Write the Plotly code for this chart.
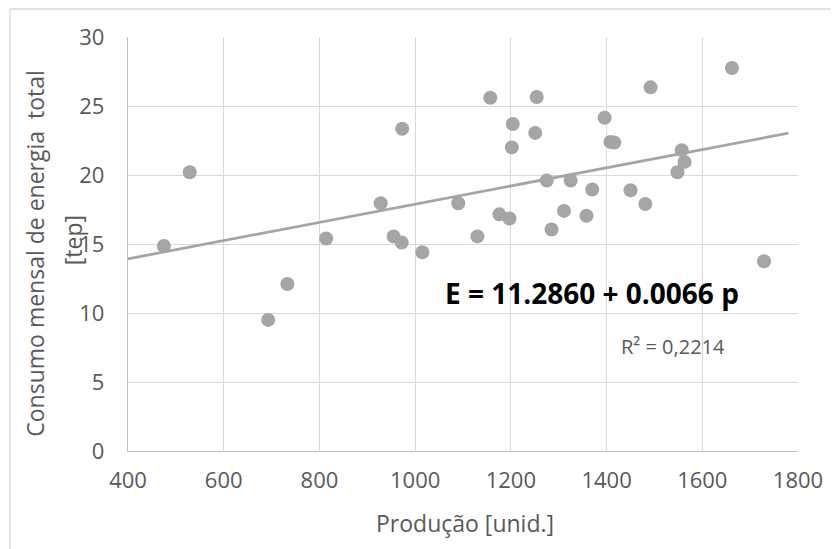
import plotly.graph_objects as go

# Data
producao = [475, 529, 693, 733, 814, 928, 955, 972, 973, 1015, 1090, 1130,
            1157, 1176, 1197, 1202, 1204, 1251, 1254, 1275, 1285, 1311, 1325, 1358,
            1370, 1396, 1408, 1416, 1450, 1481, 1492, 1548, 1557, 1563, 1662, 1729]
consumo = [14.85, 20.2, 9.5, 12.1, 15.4, 17.95, 15.55, 15.1, 23.35, 14.4, 17.95, 15.55,
           25.6, 17.15, 16.85, 22.0, 23.7, 23.05, 25.65, 19.6, 16.05, 17.4, 19.6, 17.05,
           18.95, 24.15, 22.4, 22.35, 18.9, 17.9, 26.35, 20.2, 21.8, 20.95, 27.75, 13.75]

intercept = 11.2860
slope = 0.0066
trend_x = [400, 1780]
trend_y = [intercept + slope * v for v in trend_x]

x_ticks = [400, 600, 800, 1000, 1200, 1400, 1600, 1800]
y_ticks = [0, 5, 10, 15, 20, 25, 30]

FONT = "Open Sans"
GRAY_TXT = "#595959"

fig = go.Figure()
fig.add_trace(go.Scatter(
    x=trend_x, y=trend_y, mode="lines",
    line=dict(color="#a5a5a5", width=2.75), showlegend=False, hoverinfo="skip"))
fig.add_trace(go.Scatter(
    x=producao, y=consumo, mode="markers",
    marker=dict(color="#a5a5a5", size=14), showlegend=False))

fig.update_layout(
    width=839, height=549,
    margin=dict(l=120, r=49, t=29, b=106),
    paper_bgcolor="white", plot_bgcolor="white",
    font=dict(family=FONT, color=GRAY_TXT, size=22),
    xaxis=dict(range=[400, 1800], tickvals=x_ticks, ticktext=[str(v) for v in x_ticks],
               showgrid=True, gridcolor="#d9d9d9", gridwidth=1,
               showline=True, linecolor="#bfbfbf", linewidth=1.3,
               zeroline=False, ticks="", ticklabelstandoff=9,
               tickfont=dict(family=FONT, size=22, color=GRAY_TXT)),
    yaxis=dict(range=[0, 30], tickvals=y_ticks, ticktext=[str(v) for v in y_ticks],
               showgrid=True, gridcolor="#d9d9d9", gridwidth=1,
               showline=True, linecolor="#bfbfbf", linewidth=1.3,
               zeroline=False, ticks="", ticklabelstandoff=18,
               tickfont=dict(family=FONT, size=22, color=GRAY_TXT)),
    annotations=[
        dict(text="<b>E = 11.2860 + 0.0066 p</b>", x=1369, y=11.45, xref="x", yref="y",
             showarrow=False, font=dict(family=FONT, size=28, color="black"),
             xanchor="center", yanchor="middle"),
        dict(text="R² = 0,2214", x=1539, y=7.55, xref="x", yref="y",
             showarrow=False, font=dict(family=FONT, size=20, color=GRAY_TXT),
             xanchor="center", yanchor="middle"),
        dict(text="Produção [unid.]", x=0.503, y=-0.174, xref="paper", yref="paper",
             showarrow=False, font=dict(family=FONT, size=23, color=GRAY_TXT),
             xanchor="center", yanchor="middle"),
        dict(text="Consumo mensal de energia  total", x=-0.14, y=0.477,
             xref="paper", yref="paper", textangle=-90,
             showarrow=False, font=dict(family=FONT, size=23, color=GRAY_TXT),
             xanchor="center", yanchor="middle"),
        dict(text="[tep]", x=-0.083, y=0.51,
             xref="paper", yref="paper", textangle=-90,
             showarrow=False, font=dict(family=FONT, size=23, color=GRAY_TXT),
             xanchor="center", yanchor="middle"),
    ],
    shapes=[
        dict(type="line", xref="paper", yref="paper", x0=-0.1761, x1=1.2,
             y0=1.0676, y1=1.0676, line=dict(color="#d9d9d9", width=1.3)),
        dict(type="line", xref="paper", yref="paper", x0=-0.1761, x1=-0.1761,
             y0=1.0676, y1=-0.4, line=dict(color="#d9d9d9", width=1.3)),
    ],
)

fig.write_html("out.html")
